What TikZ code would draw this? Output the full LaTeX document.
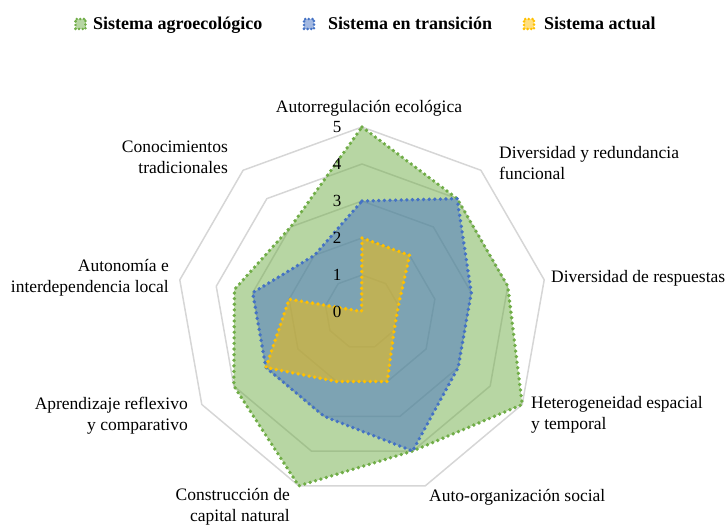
\documentclass[tikz,border=0pt]{standalone}
\usepackage{fontspec}
\setmainfont{Liberation Serif}
\begin{document}
\begin{tikzpicture}[x=1pt,y=-1pt,
  gridline/.style={draw=black!16,line width=1.5pt,line join=round},
  seriefill/.style={fill opacity=0.5,draw=none},
  serieline/.style={line width=3.8pt,dash pattern=on 0pt off 5.6pt,line cap=round,line join=round},
  axlabel/.style={inner sep=0pt,font=\fontsize{17.5}{21}\selectfont},
  scalelabel/.style={inner sep=0pt,font=\fontsize{17}{18}\selectfont},
  legtext/.style={inner sep=0pt,anchor=base west,font=\fontsize{18}{21}\selectfont\bfseries},
  legmark/.style={line width=2.8pt,dash pattern=on 0pt off 3.6pt,line cap=round,minimum size=10pt,inner sep=0pt,rectangle}
]
\definecolor{cgreen}{HTML}{70AD47}
\definecolor{cblue}{HTML}{4472C4}
\definecolor{cgold}{HTML}{FFC000}
\useasboundingbox (0,0) rectangle (727,526);
\coordinate (C) at (362,312);
% grid rings
\begin{scope}[shift={(C)}]
\foreach \r in {1,...,5}{
  \draw[gridline] (-90:{\r*37}) \foreach \a in {-50,-10,30,70,110,150,190,230}{ -- (\a:{\r*37})} -- cycle;
}
% series
\def\greenpath{(-90:{5*37}) -- (-50:{4*37}) -- (-10:{4*37}) -- (30:{5*37}) -- (70:{4*37})
  -- (110:{5*37}) -- (150:{4*37}) -- (190:{3.5*37}) -- (230:{3*37}) -- cycle}
\def\bluepath{(-90:{3*37}) -- (-50:{4*37}) -- (-10:{3*37}) -- (30:{3*37}) -- (70:{4*37})
  -- (110:{3*37}) -- (150:{3*37}) -- (190:{3*37}) -- (230:{2*37}) -- cycle}
\def\goldpath{(-90:{2*37}) -- (-50:{2*37}) -- (-10:{1*37}) -- (30:{1*37}) -- (70:{2*37})
  -- (110:{2*37}) -- (150:{3*37}) -- (190:{2*37}) -- (230:{0.02*37}) -- cycle}
\fill[seriefill,fill=cgreen] \greenpath;
\draw[serieline,draw=cgreen] \greenpath;
\fill[seriefill,fill=cblue] \bluepath;
\draw[serieline,draw=cblue] \bluepath;
\fill[seriefill,fill=cgold] \goldpath;
\draw[serieline,draw=cgold] \goldpath;
\end{scope}
% scale labels
\foreach \k in {0,...,5}{
  \node[scalelabel] (s\k) at (337,{312-37*\k}) {\k};
}
% axis labels
\node[axlabel,anchor=base] (l0) at (369,113) {Autorregulación ecológica};
\node[axlabel,anchor=north west,align=left] (l1) at (499,146) {Diversidad y redundancia\\funcional};
\node[axlabel,anchor=base west] (l2) at (551,282) {Diversidad de respuestas};
\node[axlabel,anchor=north west,align=left] (l3) at (531,396) {Heterogeneidad espacial\\y temporal};
\node[axlabel,anchor=base west] (l4) at (429,501) {Auto-organización social};
\node[axlabel,anchor=north east,align=right] (l5) at (290,488) {Construcción de\\capital natural};
\node[axlabel,anchor=north east,align=right] (l6) at (188,397) {Aprendizaje reflexivo\\y comparativo};
\node[axlabel,anchor=north east,align=right] (l7) at (169,259) {Autonomía e\\interdependencia local};
\node[axlabel,anchor=north east,align=right] (l8) at (228,141) {Conocimientos\\tradicionales};
% legend
\node[legmark,fill=cgreen!50,draw=cgreen] (m1) at (80.5,24) {};
\node[legtext] (t1) at (93,30) {Sistema agroecológico};
\node[legmark,fill=cblue!50,draw=cblue] (m2) at (309,24) {};
\node[legtext] (t2) at (328,30) {Sistema en transición};
\node[legmark,fill=cgold!50,draw=cgold] (m3) at (529,24) {};
\node[legtext] (t3) at (544,30) {Sistema actual};
\end{tikzpicture}
\end{document}
